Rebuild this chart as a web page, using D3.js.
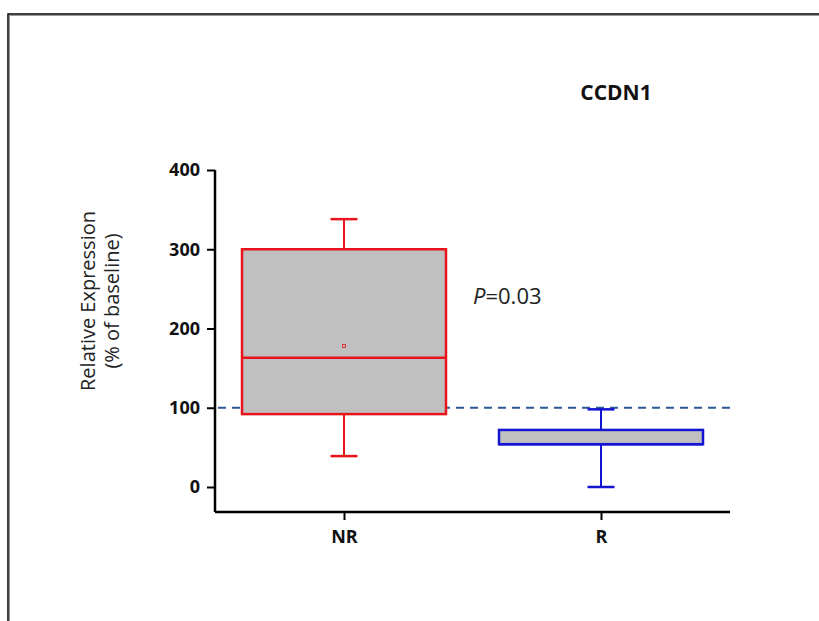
<!DOCTYPE html>
<html>
<head>
<meta charset="utf-8">
<script src="https://cdn.jsdelivr.net/npm/d3@7"></script>
<style>
  body { margin: 0; background: #fff; }
  text { font-family: "Open Sans", sans-serif; }
</style>
</head>
<body>
<svg id="chart"></svg>
<script>
const svgWidth = 819;
const svgHeight = 621;

// data
const groups = ["NR", "R"];
const whiskerLow = [39, 0];
const quartile1 = [92, 54];
const medians = [163, 54];
const quartile3 = [300, 72];
const whiskerHigh = [338, 98];
const means = [178, null];
const yTicks = [0, 100, 200, 300, 400];
const baseline = 100;
const pLabel = "0.03";

const colours = ["#e8141c", "#1414d2"];

const svg = d3.select("#chart")
  .attr("width", svgWidth)
  .attr("height", svgHeight);

// frame round the figure
svg.append("rect")
  .attr("x", 8).attr("y", 14)
  .attr("width", 830).attr("height", 640)
  .attr("fill", "none").attr("stroke", "#000").attr("stroke-width", 1.5);
svg.append("rect")
  .attr("x", 9.5).attr("y", 15.5)
  .attr("width", 830).attr("height", 640)
  .attr("fill", "none").attr("stroke", "#999").attr("stroke-width", 1);

var margin = { top: 170, left: 215, right: 89, bottom: 109 };

var y = d3.scaleLinear()
  .domain([0, 400])
  .range([487, 170]);

var x = d3.scalePoint()
  .domain(groups)
  .range([344, 601]);

var axisBottomY = 512;

// y axis
var yAxis = svg.append("g")
  .attr("transform", "translate(" + margin.left + ",0)")
  .call(d3.axisLeft(y).tickValues(yTicks).tickSize(8).tickSizeOuter(0));
yAxis.select(".domain").remove();
yAxis.append("line")
  .attr("x1", 0).attr("x2", 0)
  .attr("y1", y(400)).attr("y2", axisBottomY)
  .attr("stroke", "#000").attr("stroke-width", 2.5);
yAxis.selectAll(".tick line").attr("stroke-width", 2);
yAxis.selectAll(".tick text")
  .attr("font-size", 18).attr("font-weight", "bold").attr("fill", "#111")
  .attr("x", -15);

// x axis
var xAxis = svg.append("g")
  .attr("transform", "translate(0," + axisBottomY + ")")
  .call(d3.axisBottom(x).tickSize(8).tickSizeOuter(0));
xAxis.select(".domain").remove();
xAxis.append("line")
  .attr("x1", margin.left).attr("x2", 730)
  .attr("y1", 0).attr("y2", 0)
  .attr("stroke", "#000").attr("stroke-width", 2.5);
xAxis.selectAll(".tick line").attr("stroke-width", 2);
xAxis.selectAll(".tick text")
  .attr("font-size", 18).attr("font-weight", "bold").attr("fill", "#111")
  .attr("y", 18);

// dashed baseline
svg.append("line")
  .attr("x1", margin.left + 3).attr("x2", 736)
  .attr("y1", y(baseline)).attr("y2", y(baseline))
  .attr("stroke", "#2c5a94").attr("stroke-width", 2)
  .attr("stroke-dasharray", "8,6");

var boxWidth = 204;
var capWidth = 27;

groups.forEach(function(g, i) {
  var cx = x(g);
  var c = colours[i];
  var box = svg.append("g");
  // whiskers
  box.append("line")
    .attr("x1", cx).attr("x2", cx)
    .attr("y1", y(whiskerHigh[i])).attr("y2", y(quartile3[i]))
    .attr("stroke", c).attr("stroke-width", 2);
  box.append("line")
    .attr("x1", cx).attr("x2", cx)
    .attr("y1", y(quartile1[i])).attr("y2", y(whiskerLow[i]))
    .attr("stroke", c).attr("stroke-width", 2);
  [whiskerHigh[i], whiskerLow[i]].forEach(function(v) {
    box.append("line")
      .attr("x1", cx - capWidth / 2).attr("x2", cx + capWidth / 2)
      .attr("y1", y(v)).attr("y2", y(v))
      .attr("stroke", c).attr("stroke-width", 2.5);
  });
  // box
  box.append("rect")
    .attr("x", cx - boxWidth / 2)
    .attr("y", y(quartile3[i]))
    .attr("width", boxWidth)
    .attr("height", y(quartile1[i]) - y(quartile3[i]))
    .attr("fill", "#c0c0c0")
    .attr("stroke", c).attr("stroke-width", 2.5);
  box.append("line")
    .attr("x1", cx - boxWidth / 2).attr("x2", cx + boxWidth / 2)
    .attr("y1", y(medians[i])).attr("y2", y(medians[i]))
    .attr("stroke", c).attr("stroke-width", 2.5);
  if (means[i] != null) {
    box.append("rect")
      .attr("x", cx - 1.5).attr("y", y(means[i]) - 1.5)
      .attr("width", 3).attr("height", 3)
      .attr("fill", "none").attr("stroke", c).attr("stroke-width", 0.8);
  }
});

// title
svg.append("text")
  .attr("x", 616).attr("y", 100)
  .attr("text-anchor", "middle")
  .attr("font-size", 21).attr("font-weight", "bold").attr("fill", "#111")
  .text("CCDN1");

// P value
var pText = svg.append("text")
  .attr("x", 473).attr("y", 304)
  .attr("font-size", 22).attr("fill", "#222");
pText.append("tspan").attr("font-style", "italic").text("P");
pText.append("tspan").text("=" + pLabel);

// y label
var yLab = svg.append("text")
  .attr("transform", "translate(95,301) rotate(-90)")
  .attr("text-anchor", "middle")
  .attr("font-size", 20).attr("fill", "#222");
yLab.append("tspan").attr("x", 0).attr("dy", 0).text("Relative Expression");
yLab.append("tspan").attr("x", 0).attr("dy", 24).text("(% of baseline)");
</script>
</body>
</html>
